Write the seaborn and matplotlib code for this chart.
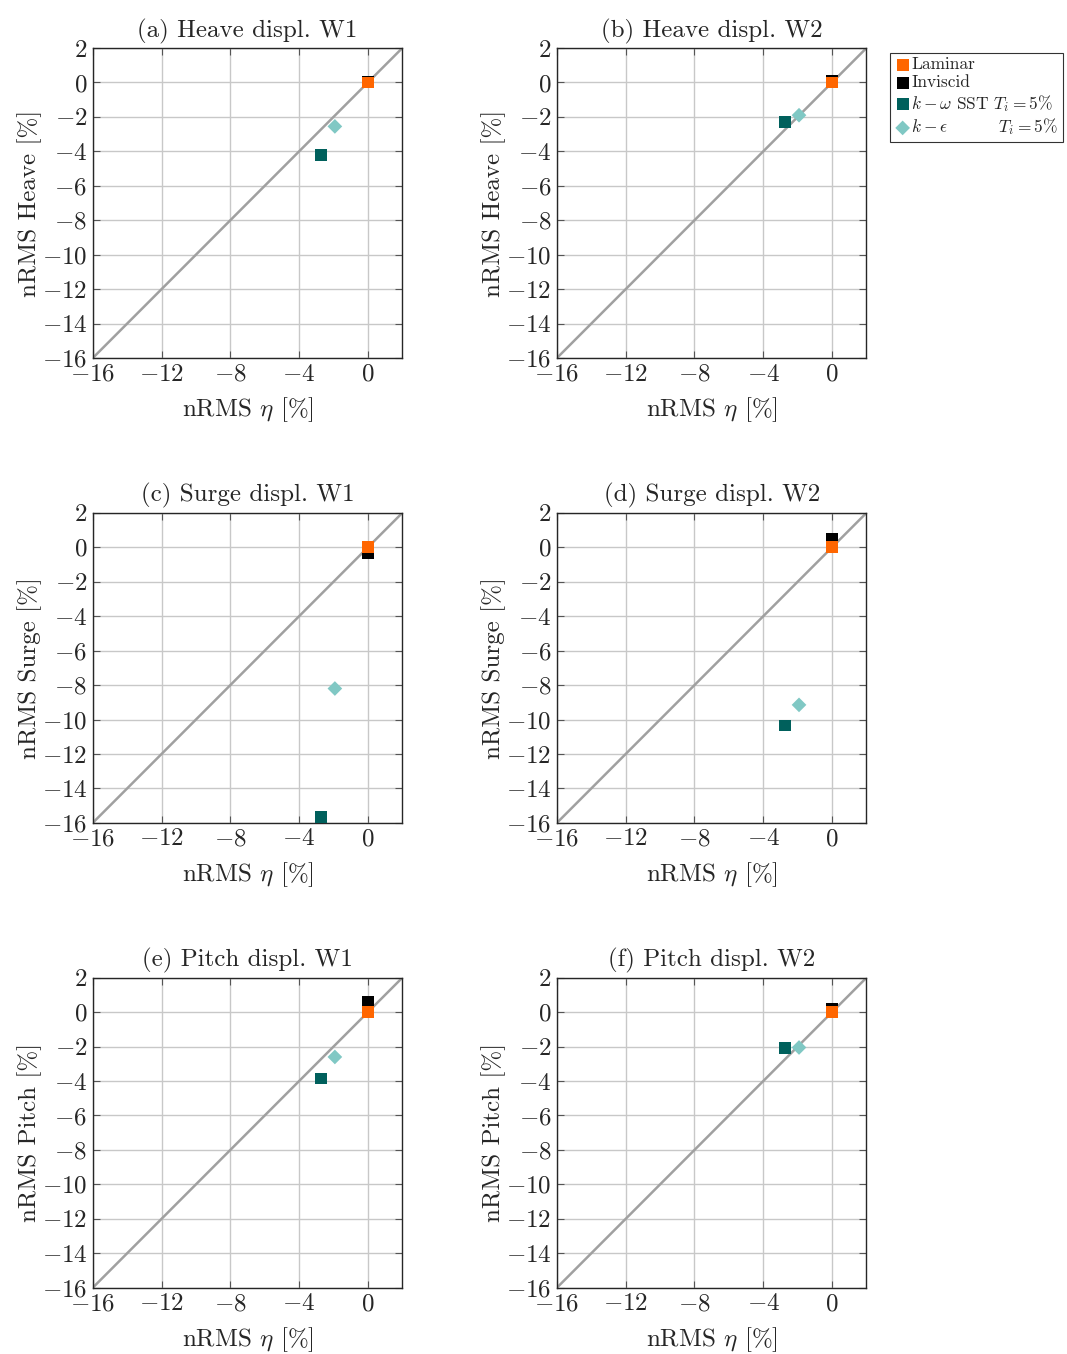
import matplotlib
matplotlib.use("Agg")
import matplotlib.pyplot as plt
import seaborn as sns
import pandas as pd

# Data (nRMS eta vs nRMS displacement, in %)
models = ["Laminar", "Inviscid", "kw", "ke"]
eta_x = [0.0, 0.0, -2.73, -1.92]

heave_w1 = [0.0, 0.05, -4.2, -2.55]
heave_w2 = [0.0, 0.12, -2.3, -1.9]
surge_w1 = [0.0, -0.35, -15.65, -8.2]
surge_w2 = [0.0, 0.5, -10.35, -9.15]
pitch_w1 = [0.0, 0.6, -3.85, -2.6]
pitch_w2 = [0.0, 0.22, -2.1, -2.05]

titles = ["(a) Heave displ. W1", "(b) Heave displ. W2",
          "(c) Surge displ. W1", "(d) Surge displ. W2",
          "(e) Pitch displ. W1", "(f) Pitch displ. W2"]
ylabels = ["nRMS Heave [%]", "nRMS Heave [%]",
           "nRMS Surge [%]", "nRMS Surge [%]",
           "nRMS Pitch [%]", "nRMS Pitch [%]"]
series = [heave_w1, heave_w2, surge_w1, surge_w2, pitch_w1, pitch_w2]

labels = {"Laminar": "Laminar",
          "Inviscid": "Inviscid",
          "kw": r"$k-\omega$ SST $T_i=5\%$",
          "ke": r"$k-\epsilon$         $T_i=5\%$"}
palette = {"Laminar": "#ff6600", "Inviscid": "#000000",
           "kw": "#00605c", "ke": "#80c8c4"}
markers = {"Laminar": "s", "Inviscid": "s", "kw": "s", "ke": "D"}
sizes = {"Laminar": 72, "Inviscid": 72, "kw": 72, "ke": 56}
order = ["Inviscid", "Laminar", "kw", "ke"]   # draw inviscid under laminar

sns.set_style("ticks")
plt.rcParams["font.family"] = "serif"
plt.rcParams["font.serif"] = ["cmr10"]
plt.rcParams["mathtext.fontset"] = "cm"
plt.rcParams["axes.formatter.use_mathtext"] = True
plt.rcParams["axes.unicode_minus"] = True

fig, axes = plt.subplots(3, 2, figsize=(10.67, 13.54), dpi=100)
fig.subplots_adjust(left=0.087, right=0.812, top=0.9645, bottom=0.049,
                    wspace=0.5, hspace=0.5)

for ax, title, ylab, vals in zip(axes.flat, titles, ylabels, series):
    df = pd.DataFrame({"model": models, "eta": eta_x, "val": vals})
    ax.plot([-16, 2], [-16, 2], color="#a0a0a0", lw=1.8, zorder=2)
    for m in order:
        sub = df[df["model"] == m]
        sns.scatterplot(data=sub, x="eta", y="val", ax=ax,
                        color=palette[m], marker=markers[m], s=sizes[m],
                        edgecolor="none", zorder=3, label=labels[m])
    ax.set_xlim(-16, 2)
    ax.set_ylim(-16, 2)
    ax.set_xticks([-16, -12, -8, -4, 0])
    ax.set_yticks(range(-16, 3, 2))
    ax.grid(True, color="#c8c8c8", lw=1.0)
    ax.set_axisbelow(True)
    ax.tick_params(direction="in", top=True, right=True, labelsize=18,
                   length=5, color="#555555", pad=4)
    for sp in ax.spines.values():
        sp.set_linewidth(1.0)
    ax.set_title(title, fontsize=18, pad=8)
    ax.set_xlabel(r"nRMS $\eta$ [%]", fontsize=18, labelpad=7)
    ax.set_ylabel(ylab, fontsize=18, labelpad=0)
    ax.get_legend().remove()

# one legend, to the right of panel (b)
handles, lbls = axes[0, 1].get_legend_handles_labels()
hmap = dict(zip(lbls, handles))
leg_order = [labels[m] for m in models]
leg = axes[0, 1].legend([hmap[l] for l in leg_order], leg_order,
                        loc="upper left", bbox_to_anchor=(1.075, 0.985),
                        fontsize=12.5, frameon=True, fancybox=False,
                        edgecolor="black", handletextpad=0.0,
                        handlelength=1.0, borderpad=0.25, labelspacing=0.15,
                        borderaxespad=0.0)
leg.get_frame().set_linewidth(0.8)

fig.savefig("out.png", dpi=100)
